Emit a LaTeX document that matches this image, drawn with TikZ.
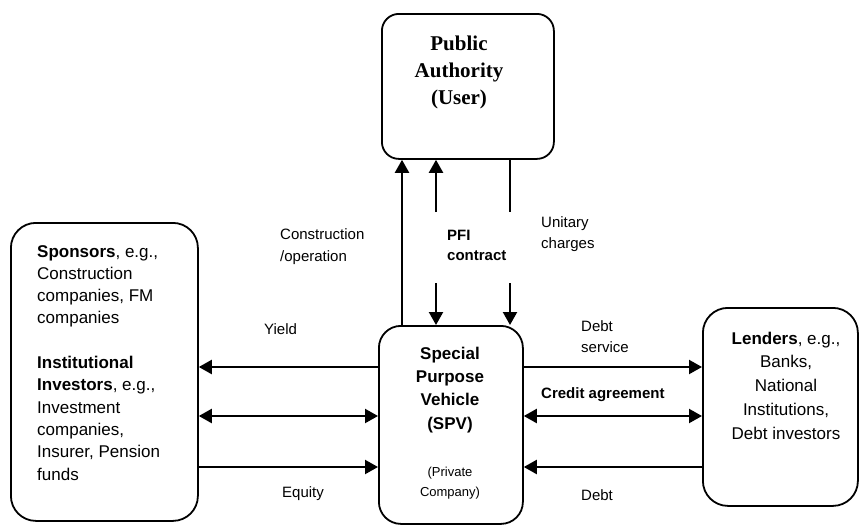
\documentclass[tikz,border=0pt]{standalone}
\usepackage{fontspec}
\setmainfont{Liberation Sans}
\newfontfamily\serifbf{Liberation Serif}
\usetikzlibrary{arrows.meta}
\begin{document}
\begin{tikzpicture}[x=1pt,y=-1pt,
  box/.style={draw, line width=1.8pt, inner sep=0pt, anchor=north west},
  arr/.style={line width=2.2pt, -{Triangle[length=13pt,width=14pt]}},
  darr/.style={line width=2.2pt, {Triangle[length=13pt,width=14pt]}-{Triangle[length=13pt,width=14pt]}},
  ln/.style={line width=2.2pt},
  boxtext/.style={inner sep=0pt, font=\fontsize{17}{22.3}\selectfont},
  lbl/.style={inner sep=0pt, anchor=base west, align=left, font=\fontsize{15}{21.5}\selectfont}]
\useasboundingbox (0,0) rectangle (860,525);

% boxes
\node[box, rounded corners=17pt, minimum width=172pt, minimum height=145pt] (pa) at (381,13) {};
\node[box, rounded corners=25pt, minimum width=187pt, minimum height=298pt] (spon) at (10,222) {};
\node[box, rounded corners=22pt, minimum width=144pt, minimum height=198pt] (spv) at (378,325) {};
\node[box, rounded corners=25pt, minimum width=155pt, minimum height=198pt] (lend) at (702,307) {};

% box texts (anchor=base is the baseline of the last line)
\node[inner sep=0pt, anchor=base, align=center, font=\serifbf\bfseries\fontsize{21}{26.7}\selectfont] (patext) at (459,104) {Public\\Authority\\(User)};
\node[boxtext, anchor=base west, align=left] (spontext) at (37,480)
  {\textbf{Sponsors}, e.g.,\\Construction\\companies, FM\\companies\\[22.3pt]\textbf{Institutional}\\\textbf{Investors}, e.g.,\\Investment\\companies,\\Insurer, Pension\\funds};
\node[boxtext, anchor=base, align=center, font=\bfseries\fontsize{17}{23.3}\selectfont] (spvtext) at (450,429) {Special\\Purpose\\Vehicle\\(SPV)};
\node[inner sep=0pt, anchor=base, align=center, font=\fontsize{13}{20}\selectfont] (spvsub) at (450,496) {(Private\\Company)};
\node[boxtext, anchor=base, align=center, font=\fontsize{17}{23.7}\selectfont] (lendtext) at (786,439) {\textbf{Lenders}, e.g.,\\Banks,\\National\\Institutions,\\Debt investors};

% labels
\node[lbl, font=\fontsize{15}{22}\selectfont] (lconst) at (280,261) {Construction\\/operation};
\node[lbl, font=\fontsize{15}{21}\selectfont] (lunit) at (541,248) {Unitary\\charges};
\node[lbl, font=\bfseries\fontsize{15}{20}\selectfont] (lpfi) at (447,260) {PFI\\contract};
\node[lbl] (lyield) at (264,334) {Yield};
\node[lbl] (lequity) at (282,497) {Equity};
\node[lbl, font=\fontsize{15}{21}\selectfont] (ldebts) at (581,352) {Debt\\service};
\node[lbl, font=\bfseries\fontsize{15}{20}\selectfont] (lcredit) at (541,398) {Credit agreement};
\node[lbl] (ldebt) at (581,500) {Debt};

% helper coordinates
\coordinate (xa) at (402,0);
\coordinate (xb) at (436,0);
\coordinate (xc) at (510,0);
\coordinate (b1top) at (436,212);
\coordinate (b1bot) at (436,283);
\coordinate (c1top) at (510,212);
\coordinate (c1bot) at (510,283);
\coordinate (r1) at (0,367);
\coordinate (r2) at (0,416);
\coordinate (r3) at (0,467);

% vertical connectors
\draw[arr] (spv.north -| xa) -- (pa.south -| xa);
\draw[arr] (b1top) -- (pa.south -| xb);
\draw[arr] (b1bot) -- (spv.north -| xb);
\draw[ln] (pa.south -| xc) -- (c1top);
\draw[arr] (c1bot) -- (spv.north -| xc);

% horizontal connectors
\draw[arr] (spv.west |- r1) -- (spon.east |- r1);
\draw[darr] (spon.east |- r2) -- (spv.west |- r2);
\draw[arr] (spon.east |- r3) -- (spv.west |- r3);
\draw[arr] (spv.east |- r1) -- (lend.west |- r1);
\draw[darr] (spv.east |- r2) -- (lend.west |- r2);
\draw[arr] (lend.west |- r3) -- (spv.east |- r3);
\end{tikzpicture}
\end{document}
